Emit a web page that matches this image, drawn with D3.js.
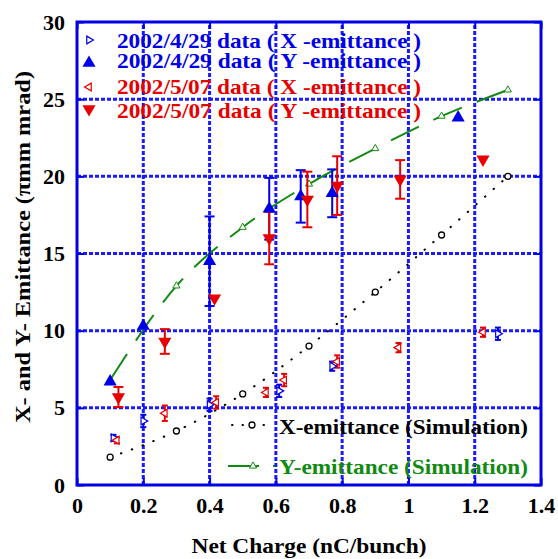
<!DOCTYPE html>
<html>
<head>
<meta charset="utf-8">
<script src="https://cdn.jsdelivr.net/npm/d3@7"></script>
<style>
  body { margin: 0; background: #fff; }
  text { font-family: "Liberation Serif", "Times New Roman", serif; font-weight: bold; }
</style>
</head>
<body>
<div id="vis"></div>
<script>
// datos
const X_TICKS = [0, 0.2, 0.4, 0.6, 0.8, 1, 1.2, 1.4];
const Y_TICKS = [0, 5, 10, 15, 20, 25, 30];

// 2002/4/29 Y-emittance (triangulo azul lleno)
const y0429_q = [0.10, 0.20, 0.40, 0.58, 0.675, 0.77, 1.15];
const y0429_e = [6.7, 10.3, 14.5, 17.9, 18.7, 18.9, 23.8];
const y0429_err = [0, 0, 2.9, 2.0, 1.7, 1.55, 0];

// 2002/5/07 Y-emittance (triangulo rojo hacia abajo)
const y0507_q = [0.125, 0.265, 0.415, 0.58, 0.695, 0.785, 0.975, 1.225];
const y0507_e = [5.7, 9.3, 12.1, 16.0, 18.5, 19.4, 19.8, 21.1];
const y0507_err = [0.65, 0.8, 0, 1.7, 1.8, 1.9, 1.25, 0];

// 2002/4/29 X-emittance
const x0429_q = [0.11, 0.20, 0.40, 0.61, 0.77, 1.27];
const x0429_e = [3.05, 4.15, 5.2, 6.1, 7.7, 9.8];
const x0429_err = [0.2, 0.4, 0.4, 0.4, 0.3, 0.4];

// 2002/5/07 X-emittance
const x0507_q = [0.12, 0.265, 0.42, 0.57, 0.625, 0.785, 0.97, 1.225];
const x0507_e = [2.9, 4.65, 5.35, 6.0, 6.8, 8.0, 8.9, 9.9];
const x0507_err = [0.2, 0.5, 0.4, 0.3, 0.4, 0.4, 0.3, 0.3];

// simulacion
const sim_q = [0.1, 0.3, 0.5, 0.7, 0.9, 1.1, 1.3];
const simX_e = [1.8, 3.5, 5.9, 9.0, 12.5, 16.2, 20.0];
const simY_e = [6.8, 12.9, 16.7, 19.5, 21.8, 23.9, 25.6];

const WIDTH = 558;
const HEIGHT = 559;
const MARGIN = { top: 22, left: 77, right: 17, bottom: 74 };

const BLUE = "#0000e6";
const GRID = "#1a1aff";
const RED = "#e60000";
const GREEN = "#108a10";

const SVG = d3.select("#vis").append("svg")
  .attr("width", WIDTH)
  .attr("height", HEIGHT);

const x = d3.scaleLinear().domain([0, 1.4]).range([MARGIN.left, WIDTH - MARGIN.right]);
const y = d3.scaleLinear().domain([0, 30]).range([HEIGHT - MARGIN.bottom, MARGIN.top]);

const zip = (qs, es, errs) => qs.map((q, i) => ({ q: q, e: es[i], err: errs ? errs[i] : 0 }));

// grilla
const grid = SVG.append("g");
grid.selectAll(".gx").data(X_TICKS.slice(1, -1)).join("line")
  .attr("x1", d => x(d)).attr("x2", d => x(d))
  .attr("y1", y(0)).attr("y2", y(30))
  .attr("stroke", GRID).attr("stroke-width", 3).attr("stroke-dasharray", "4,2");
grid.selectAll(".gy").data(Y_TICKS.slice(1, -1)).join("line")
  .attr("y1", d => y(d)).attr("y2", d => y(d))
  .attr("x1", x(0)).attr("x2", x(1.4))
  .attr("stroke", GRID).attr("stroke-width", 3).attr("stroke-dasharray", "4,2");

// ejes con ticks hacia adentro
const axes = SVG.append("g");
axes.append("g").attr("transform", `translate(0,${y(0)})`)
  .call(d3.axisBottom(x).tickValues(X_TICKS).tickSize(-7).tickPadding(12).tickFormat(d3.format("")));
axes.append("g").attr("transform", `translate(${x(0)},0)`)
  .call(d3.axisLeft(y).tickValues(Y_TICKS).tickSize(-7).tickPadding(12));
axes.append("g").attr("transform", `translate(0,${y(30)})`)
  .call(d3.axisTop(x).tickValues(X_TICKS).tickSize(-7).tickFormat(""));
axes.append("g").attr("transform", `translate(${x(1.4)},0)`)
  .call(d3.axisRight(y).tickValues(Y_TICKS).tickSize(-7).tickFormat(""));
axes.selectAll(".domain").remove();
axes.selectAll(".tick line").attr("stroke", BLUE).attr("stroke-width", 2);
axes.selectAll(".tick text").attr("fill", "#000").style("font-size", "22px")
  .style("font-family", "Liberation Serif").style("font-weight", "bold");

SVG.append("rect")
  .attr("x", x(0)).attr("y", y(30))
  .attr("width", x(1.4) - x(0)).attr("height", y(0) - y(30))
  .attr("fill", "none").attr("stroke", BLUE).attr("stroke-width", 3);

// lineas de simulacion
const line = d3.line().x(d => x(d.q)).y(d => y(d.e)).curve(d3.curveMonotoneX);

SVG.append("path").datum(zip(sim_q, simX_e))
  .attr("d", line).attr("fill", "none").attr("stroke", "#000")
  .attr("stroke-width", 2).attr("stroke-linecap", "round").attr("stroke-dasharray", "0.5,11");
SVG.append("path").datum(zip(sim_q, simY_e))
  .attr("d", line).attr("fill", "none").attr("stroke", GREEN)
  .attr("stroke-width", 2).attr("stroke-dasharray", "31,16");

SVG.selectAll(".simx").data(zip(sim_q, simX_e)).join("circle")
  .attr("cx", d => x(d.q)).attr("cy", d => y(d.e)).attr("r", 3)
  .attr("fill", "#fff").attr("stroke", "#000").attr("stroke-width", 1.3);

const triSmall = d3.symbol().type(d3.symbolTriangle).size(22);
SVG.selectAll(".simy").data(zip(sim_q, simY_e)).join("path")
  .attr("transform", d => `translate(${x(d.q)},${y(d.e)})`)
  .attr("d", triSmall).attr("fill", "#fff").attr("stroke", GREEN).attr("stroke-width", 1);

// barras de error
function errorBars(data, color, cap) {
  const g = SVG.append("g");
  const d2 = data.filter(d => d.err > 0);
  g.selectAll(".v").data(d2).join("line")
    .attr("x1", d => x(d.q)).attr("x2", d => x(d.q))
    .attr("y1", d => y(d.e - d.err)).attr("y2", d => y(d.e + d.err))
    .attr("stroke", color).attr("stroke-width", 2);
  g.selectAll(".t").data(d2).join("line")
    .attr("x1", d => x(d.q) - cap).attr("x2", d => x(d.q) + cap)
    .attr("y1", d => y(d.e + d.err)).attr("y2", d => y(d.e + d.err))
    .attr("stroke", color).attr("stroke-width", 2);
  g.selectAll(".b").data(d2).join("line")
    .attr("x1", d => x(d.q) - cap).attr("x2", d => x(d.q) + cap)
    .attr("y1", d => y(d.e - d.err)).attr("y2", d => y(d.e - d.err))
    .attr("stroke", color).attr("stroke-width", 2);
}

const dX0429 = zip(x0429_q, x0429_e, x0429_err);
const dX0507 = zip(x0507_q, x0507_e, x0507_err);
const dY0429 = zip(y0429_q, y0429_e, y0429_err);
const dY0507 = zip(y0507_q, y0507_e, y0507_err);

errorBars(dX0429, BLUE, 3);
errorBars(dX0507, RED, 3);
errorBars(dY0429, BLUE, 5);
errorBars(dY0507, RED, 5);

const triOpen = d3.symbol().type(d3.symbolTriangle).size(26);
SVG.selectAll(".xb").data(dX0429).join("path")
  .attr("transform", d => `translate(${x(d.q)},${y(d.e)}) rotate(90)`)
  .attr("d", triOpen).attr("fill", "#fff").attr("stroke", BLUE).attr("stroke-width", 1.2);
SVG.selectAll(".xr").data(dX0507).join("path")
  .attr("transform", d => `translate(${x(d.q)},${y(d.e)}) rotate(-90)`)
  .attr("d", triOpen).attr("fill", "#fff").attr("stroke", RED).attr("stroke-width", 1.2);

const triBig = d3.symbol().type(d3.symbolTriangle).size(75);
SVG.selectAll(".yb").data(dY0429).join("path")
  .attr("transform", d => `translate(${x(d.q)},${y(d.e)})`)
  .attr("d", triBig).attr("fill", BLUE);
SVG.selectAll(".yr").data(dY0507).join("path")
  .attr("transform", d => `translate(${x(d.q)},${y(d.e)}) rotate(180)`)
  .attr("d", triBig).attr("fill", RED);

// leyenda superior
const legend1 = [
  { label: "2002/4/29 data ( X -emittance )", color: BLUE, my: 40, ty: 48, kind: "xb" },
  { label: "2002/4/29 data ( Y -emittance )", color: BLUE, my: 63, ty: 68, kind: "yb" },
  { label: "2002/5/07 data ( X -emittance )", color: RED, my: 87, ty: 94, kind: "xr" },
  { label: "2002/5/07 data ( Y -emittance )", color: RED, my: 109, ty: 118, kind: "yr" },
];
const lg = SVG.append("g");
legend1.forEach(l => {
  const m = lg.append("path").attr("transform", `translate(89,${l.my})` +
    (l.kind == "xb" ? " rotate(90)" : l.kind == "xr" ? " rotate(-90)" : l.kind == "yr" ? " rotate(180)" : ""));
  if (l.kind[0] == "x") m.attr("d", triOpen).attr("fill", "#fff").attr("stroke", l.color).attr("stroke-width", 1.2);
  else m.attr("d", triBig).attr("fill", l.color);
  lg.append("text").attr("x", 117).attr("y", l.ty).attr("fill", l.color)
    .attr("textLength", 304).attr("lengthAdjust", "spacingAndGlyphs")
    .style("font-size", "22px").text(l.label);
});

// leyenda de simulacion
const lg2 = SVG.append("g");
lg2.append("line").attr("x1", 232).attr("x2", 274).attr("y1", 425).attr("y2", 425)
  .attr("stroke", "#000").attr("stroke-width", 2).attr("stroke-linecap", "round").attr("stroke-dasharray", "0.5,10");
lg2.append("circle").attr("cx", 252).attr("cy", 425).attr("r", 3)
  .attr("fill", "#fff").attr("stroke", "#000").attr("stroke-width", 1.3);
lg2.append("text").attr("x", 279).attr("y", 434).style("font-size", "22px").attr("fill", "#000")
  .attr("textLength", 249).attr("lengthAdjust", "spacingAndGlyphs")
  .text("X-emittance (Simulation)");
lg2.append("line").attr("x1", 228).attr("x2", 275).attr("y1", 466).attr("y2", 466)
  .attr("stroke", GREEN).attr("stroke-width", 2).attr("stroke-dasharray", "31,14");
lg2.append("path").attr("transform", "translate(253,466)").attr("d", triSmall)
  .attr("fill", "#fff").attr("stroke", GREEN).attr("stroke-width", 1);
lg2.append("text").attr("x", 279).attr("y", 474).style("font-size", "22px").attr("fill", GREEN)
  .attr("textLength", 249).attr("lengthAdjust", "spacingAndGlyphs")
  .text("Y-emittance (Simulation)");

// titulos de ejes
SVG.append("text")
  .attr("transform", `translate(30,${247}) rotate(-90)`)
  .attr("text-anchor", "middle").style("font-size", "22px")
  .attr("textLength", 352).attr("lengthAdjust", "spacingAndGlyphs")
  .text("X- and Y- Emittance (πmm mrad)");
SVG.append("text")
  .attr("x", 309).attr("y", 553).attr("text-anchor", "middle").style("font-size", "22px")
  .attr("textLength", 235).attr("lengthAdjust", "spacingAndGlyphs")
  .text("Net Charge (nC/bunch)");
</script>
</body>
</html>
